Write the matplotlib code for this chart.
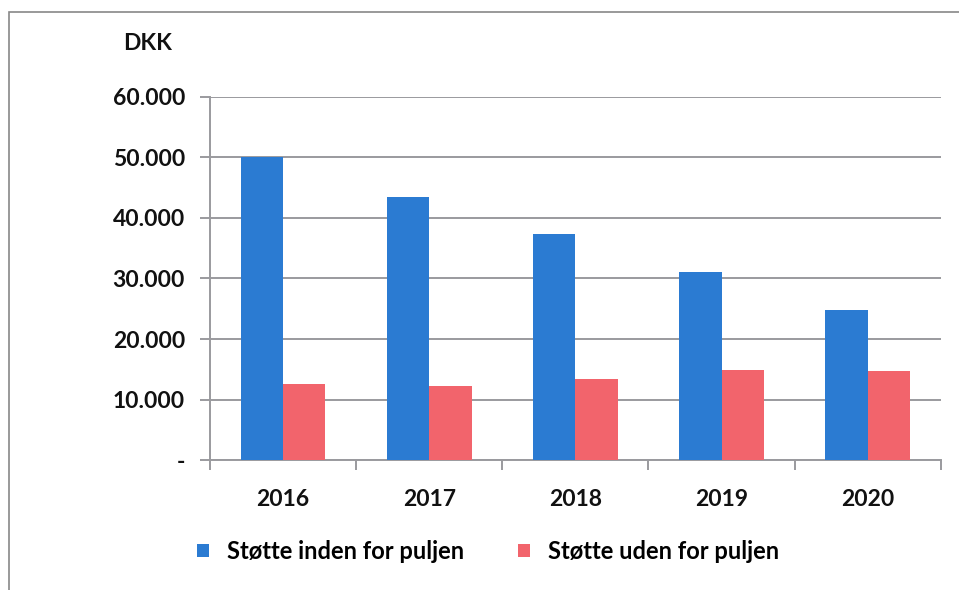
import numpy as np
import matplotlib.pyplot as plt
from matplotlib.patches import Rectangle
from matplotlib.ticker import FuncFormatter

years = ['2016', '2017', '2018', '2019', '2020']
inden = [50000, 43500, 37300, 31100, 24800]
uden = [12600, 12200, 13400, 14900, 14700]
yticks = [0, 10000, 20000, 30000, 40000, 50000, 60000]

blue = '#2b7bd2'
red = '#f2646c'
grid_col = '#9a9a9e'

plt.rcParams['font.family'] = ['Lato', 'DejaVu Sans']
plt.rcParams['font.weight'] = 'bold'

fig = plt.figure(figsize=(9.59, 5.90), dpi=100)
ax = fig.add_axes([0.219, 0.22, 0.762, 0.616])

x = np.arange(len(years))
w = 0.29
ax.bar(x - w / 2, inden, width=w, color=blue, label='Støtte inden for puljen', zorder=3)
ax.bar(x + w / 2, uden, width=w, color=red, label='Støtte uden for puljen', zorder=3)

ax.set_xlim(-0.5, len(years) - 0.5)
ax.set_ylim(0, 60000)
ax.set_yticks(yticks)
ax.yaxis.set_major_formatter(FuncFormatter(
    lambda v, _: '-' if v == 0 else '{:,.0f}'.format(v).replace(',', '.')))
ax.grid(axis='y', color=grid_col, linewidth=1.4, zorder=1)

ax.set_xticks(x)
ax.set_xticklabels(years)
ax.set_xticks(np.arange(len(years) + 1) - 0.5, minor=True)
ax.tick_params(axis='x', which='major', length=0, pad=21, labelsize=16.5, labelcolor='#111111')
ax.tick_params(axis='x', which='minor', length=7, width=1.4, color=grid_col)
ax.tick_params(axis='y', length=7, width=1.4, color=grid_col, pad=11,
               labelsize=16.5, labelcolor='#111111')

for side in ['top', 'right']:
    ax.spines[side].set_visible(False)
for side in ['left', 'bottom']:
    ax.spines[side].set_color(grid_col)
    ax.spines[side].set_linewidth(1.4)

fig.text(0.128, 0.926, 'DKK', fontsize=16.5, color='#111111', va='center')

fig.legend(loc='center', bbox_to_anchor=(0.509, 0.065), ncol=2, frameon=False,
           fontsize=17, handlelength=0.5, handleheight=0.5, columnspacing=2.3,
           handletextpad=0.75)

fig.patches.append(Rectangle((0.009, -0.01), 1.1, 0.99, transform=fig.transFigure,
                             fill=False, edgecolor='#888888', linewidth=1.2))

fig.savefig('out.png', dpi=100)
